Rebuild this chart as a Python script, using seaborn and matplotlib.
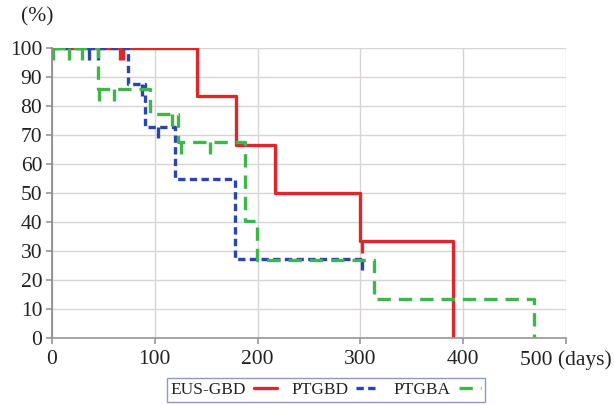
import numpy as np
import pandas as pd
import matplotlib
matplotlib.use("Agg")
import matplotlib.pyplot as plt
import seaborn as sns

# ---- data ----
eus_days = [0, 141, 179, 217, 300, 390]
eus_surv = [100, 83.3, 66.7, 50.0, 33.3, 0]
eus_cens_days = [66, 69, 302]
eus_cens_surv = [100, 100, 33.3]

ptgbd_days = [0, 74, 90, 120, 178, 302]
ptgbd_surv = [100, 87.5, 72.9, 54.7, 27.3, 27.3]
ptgbd_cens_days = [36, 45, 88, 103, 302]
ptgbd_cens_surv = [100, 100, 87.5, 72.9, 27.3]

ptgba_days = [0, 45, 95, 123, 188, 199, 313, 469]
ptgba_surv = [100, 85.7, 77.1, 67.5, 40.5, 27.0, 13.5, 0]
ptgba_cens_days = [1, 17, 29, 46, 60, 117, 125, 154]
ptgba_cens_surv = [100, 100, 100, 85.7, 85.7, 77.1, 67.5, 67.5]

group_names = ["EUS-GBD", "PTGBD", "PTGBA"]
x_ticks = [0, 100, 200, 300, 400, 500]
x_tick_labels = ["0", "100", "200", "300", "400", "500 (days)"]
y_ticks = list(range(0, 101, 10))

colors = {"EUS-GBD": "#e0262a", "PTGBD": "#2a46a8", "PTGBA": "#3fb64a"}

sns.set_theme(style="white")
plt.rcParams["font.family"] = ["Liberation Serif", "DejaVu Serif"]

fig = plt.figure(figsize=(6.14, 4.05), dpi=100)
ax = fig.add_axes([52 / 614, 1 - 338 / 405, (566 - 52) / 614, (338 - 48) / 405])

series = [
    ("EUS-GBD", eus_days, eus_surv, eus_cens_days, eus_cens_surv, None, 2.4),
    ("PTGBD", ptgbd_days, ptgbd_surv, ptgbd_cens_days, ptgbd_cens_surv, (2.2, 1.3), 2.4),
    ("PTGBA", ptgba_days, ptgba_surv, ptgba_cens_days, ptgba_cens_surv, (4.0, 2.4), 2.4),
]

for name, d, s, cd, cs, dash, lw in series:
    df = pd.DataFrame({"day": d, "surv": s})
    sns.lineplot(data=df, x="day", y="surv", ax=ax, color=colors[name], lw=lw,
                 drawstyle="steps-post", estimator=None, sort=False, label=name)
    l = ax.get_lines()[-1]
    if dash is not None:
        l.set_dashes(dash)
    cdf = np.array(cs)
    ax.vlines(cd, cdf - 4, cdf, colors=colors[name], lw=lw, linestyles="solid")

ax.set_xlim(0, 500)
ax.set_ylim(0, 100)
ax.set_xticks(x_ticks)
ax.set_xticklabels(x_tick_labels)
ax.set_yticks(y_ticks)
ax.set_xlabel("")
ax.set_ylabel("")
ax.grid(True, color="#d8d4d4", lw=1.0)
ax.set_axisbelow(True)
for sp in ["top", "right"]:
    ax.spines[sp].set_visible(False)
ax.spines["left"].set_color("#8a8a8a")
ax.spines["bottom"].set_color("#9a9a9a")
ax.tick_params(axis="both", labelsize=15.5, colors="#222222", length=4,
               direction="out", left=True, bottom=True)
ax.tick_params(axis="both", color="#9a9a9a")
ax.tick_params(axis="x", pad=5)
ax.tick_params(axis="y", pad=3)

fig.text(21 / 614, 1 - 17 / 405, "(%)", fontsize=15.5, color="#222222",
         ha="left", va="center")

if ax.legend_:
    ax.legend_.remove()
handles = ax.get_lines()[:3]
leg = fig.legend(handles, group_names, loc="center",
                 bbox_to_anchor=(326 / 614, 1 - 390 / 405), ncol=3,
                 markerfirst=False, frameon=True, fancybox=False,
                 fontsize=12.5, handlelength=1.3, columnspacing=0.85,
                 handletextpad=0.45, borderpad=0.25, borderaxespad=0,
                 edgecolor="#6f82b8")
leg.get_frame().set_linewidth(1.0)
for t in leg.get_texts():
    t.set_color("#222222")

fig.savefig("out.png", dpi=100)
